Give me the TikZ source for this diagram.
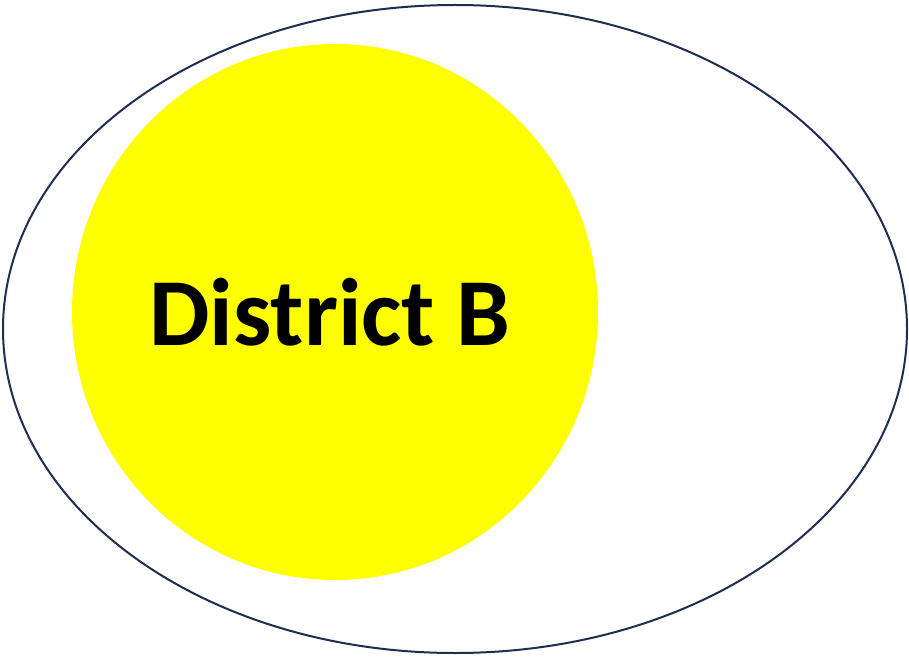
\documentclass[tikz,border=0pt]{standalone}
\usepackage{fontspec}
\setmainfont{Carlito}
\definecolor{navy}{HTML}{1F2D50}
\definecolor{yel}{HTML}{FFFF00}
\begin{document}
\begin{tikzpicture}[x=1pt,y=1pt,
  outerell/.style={draw=navy,line width=2pt},
  district/.style={fill=yel,draw=none},
  lbl/.style={font=\bfseries\fontsize{96}{100}\selectfont,anchor=base,inner sep=0pt}]
\useasboundingbox (0,0) rectangle (909,657);
\draw[outerell] (455,328) ellipse [x radius=452, y radius=324];
\fill[district] (335,345) ellipse [x radius=263, y radius=268];
\node[lbl] (b) at (330,312) {District B};
\end{tikzpicture}
\end{document}
